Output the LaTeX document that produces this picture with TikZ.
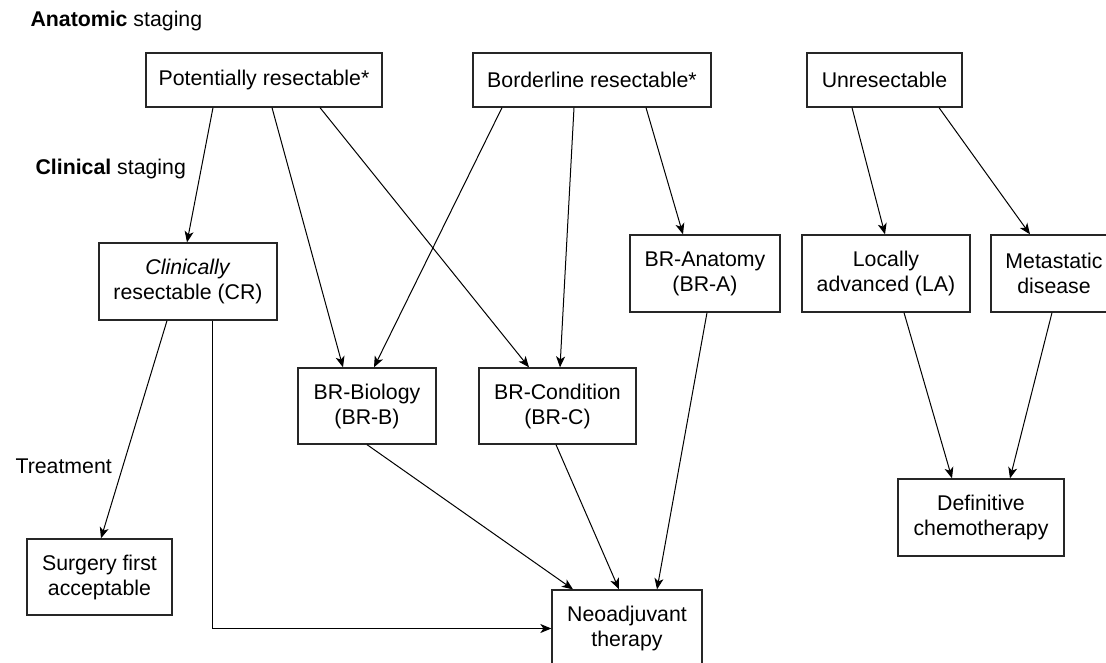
\documentclass[tikz,border=0pt]{standalone}
\usepackage{fontspec}
\setmainfont{Liberation Sans}
\usetikzlibrary{arrows.meta}

\begin{document}
\begin{tikzpicture}
  [x=1pt, y=-1pt,
   font=\fontsize{21.3}{25}\selectfont,
   >={Stealth[length=11pt,width=9pt,inset=3pt]},
   stage/.style={draw=black!85, line width=1.3pt, inner sep=0pt, align=center, minimum height=77pt},
   link/.style={->, line width=1pt}]
  \clip (0,0) rectangle (1106,663);

  \node[anchor=base west] (anat) at (27,27) {\textbf{Anatomic} staging};
  \node[anchor=base west] (clin) at (32,175) {\textbf{Clinical} staging};
  \node[anchor=base west] (treat) at (12,473) {Treatment};

  \node[stage, minimum width=236pt, minimum height=54pt] (pr) at (264,80) {Potentially resectable*};
  \node[stage, minimum width=238pt, minimum height=54pt] (br) at (592,80) {Borderline resectable*};
  \node[stage, minimum width=155pt, minimum height=54pt] (ur) at (884.5,80) {Unresectable};

  \node[stage, minimum width=178pt] (cr) at (188,281.5) {\textit{Clinically}\\resectable (CR)};
  \node[stage, minimum width=150pt] (bra) at (705,273.5) {BR-Anatomy\\(BR-A)};
  \node[stage, minimum width=168pt] (la) at (886,273.5) {Locally\\advanced (LA)};
  \node[stage, minimum width=126pt] (md) at (1054,273.5) {Metastatic\\disease};
  \node[stage, minimum width=138pt, minimum height=76pt] (brb) at (367,406) {BR-Biology\\(BR-B)};
  \node[stage, minimum width=157pt, minimum height=76pt] (brc) at (557.5,406) {BR-Condition\\(BR-C)};

  \node[stage, minimum width=145pt, minimum height=76pt] (sf) at (99.5,577) {Surgery first\\acceptable};
  \node[stage, minimum width=166pt] (dc) at (981,517.5) {Definitive\\chemotherapy};
  \node[stage, minimum width=150pt] (nt) at (627,628.5) {Neoadjuvant\\therapy};

  \foreach \a/\da/\b/\db in {pr/-51/cr/-1, pr/8/brb/-24, pr/56/brc/-28.5,
                             br/-90/brb/7, br/-18/brc/2.5, br/54/bra/-22,
                             ur/-32.5/la/-1, ur/54.5/md/-24,
                             cr/-21/sf/1.5, brb/0/nt/-54, brc/-1.5/nt/-8, bra/2/nt/30,
                             la/18/dc/-29, md/-2/dc/29}
    \draw[link] ([xshift=\da pt]\a.south) -- ([xshift=\db pt]\b.north);
  \draw[link] ([xshift=24pt]cr.south) |- (nt.west);
\end{tikzpicture}
\end{document}
